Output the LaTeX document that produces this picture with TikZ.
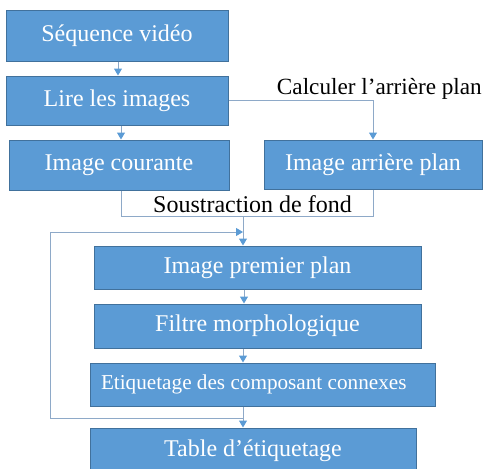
\documentclass[tikz,border=0pt]{standalone}
\usepackage{fontspec}
\setmainfont{Liberation Serif}
\usetikzlibrary{arrows.meta}
\definecolor{boxfill}{HTML}{5B9BD5}
\definecolor{boxline}{HTML}{41719C}
\definecolor{wire}{HTML}{8EA9C8}
\tikzset{
  stepbox/.style={draw=boxline, line width=1pt, fill=boxfill, text=white,
    inner sep=0pt, font=\fontsize{24}{28}\selectfont},
  wireline/.style={draw=wire, line width=1pt},
  flow/.style={wireline, -{Triangle[width=8pt,length=7pt,color=boxfill]}},
  caption/.style={inner sep=0pt, font=\fontsize{24}{28}\selectfont}
}
\begin{document}
\begin{tikzpicture}[x=1pt,y=-1pt]
\useasboundingbox (0,0) rectangle (483,469);
\begin{scope}
\clip (0,0) rectangle (483,469);

% processing steps
\node[stepbox, minimum width=222pt, minimum height=51pt] (seq) at (117,35.5) {\raisebox{-2pt}{Séquence vidéo}};
\node[stepbox, minimum width=222pt, minimum height=49pt] (lire) at (117,100.5) {\raisebox{-1pt}{Lire les images}};
\node[stepbox, minimum width=220pt, minimum height=50pt] (cour) at (119,165) {Image courante};
\node[stepbox, minimum width=218pt, minimum height=49pt] (arr) at (373,164.5) {Image arrière plan};
\node[stepbox, minimum width=327pt, minimum height=43pt] (prem) at (257.5,267.5) {Image premier plan};
\node[stepbox, minimum width=327pt, minimum height=44pt] (filt) at (257.5,326) {Filtre morphologique};
\node[stepbox, minimum width=345pt, minimum height=43pt, font=\fontsize{21.2}{25}\selectfont] (etiq) at (262.5,384.5)
  {\makebox[345pt][l]{\hspace{11pt}Etiquetage des composant connexes}};
\node[stepbox, minimum width=326pt, minimum height=46pt] (table) at (253,451) {Table d’étiquetage};

% reference points for the connectors
\coordinate (xa) at (118,0);
\coordinate (xb) at (121,0);
\coordinate (junc) at (243,216);
\coordinate (loopbot) at (50,418);
\coordinate (looptop) at (50,232);
\coordinate (xc) at (244,0);

% connectors
\draw[flow] (seq.south -| xa) -- (lire.north -| xa);
\draw[flow] (lire.south -| xb) -- (cour.north -| xb);
\draw[flow] (lire.east) -| (arr.north);
\draw[wireline] (cour.south -| xb) |- (arr.south |- junc) -- (arr.south);
\draw[flow] (junc) -- (prem.north -| junc);
\draw[flow] (prem.south -| xc) -- (filt.north -| xc);
\draw[flow] (filt.south -| junc) -- (etiq.north -| junc);
\draw[flow] (etiq.south -| junc) -- (table.north -| junc);
\draw[flow] (loopbot -| junc) -- (loopbot) -- (looptop) -- (looptop -| junc);
\end{scope}

% captions
\node[caption, anchor=base east, font=\fontsize{23.2}{28}\selectfont] (calc) at (482,94) {Calculer l’arrière plan};
\node[caption, anchor=base west] (sous) at (153,212.5) {Soustraction de fond};
\end{tikzpicture}
\end{document}
